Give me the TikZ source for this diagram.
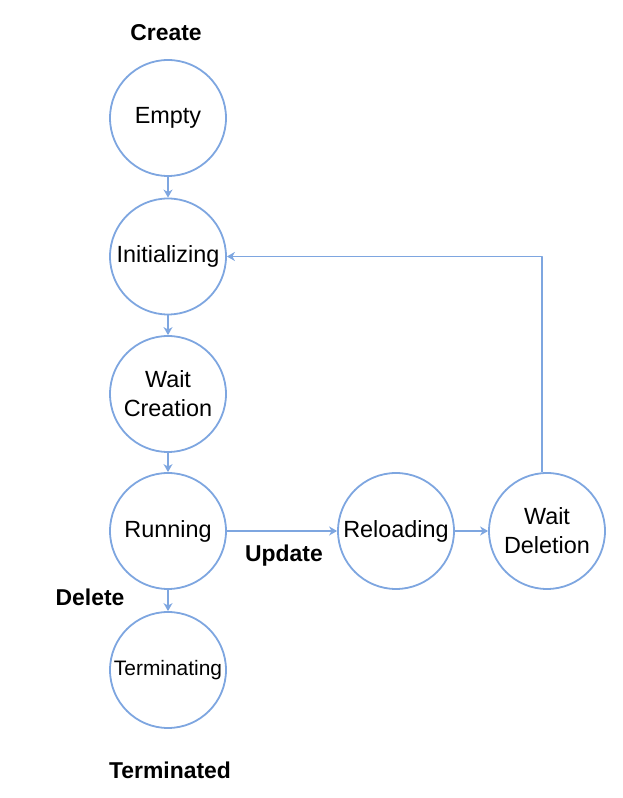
\documentclass[tikz,border=0pt]{standalone}
\usepackage{fontspec}
\setmainfont{Liberation Sans}
\usetikzlibrary{arrows.meta}
\definecolor{stateblue}{HTML}{7EA6E0}
\begin{document}
\begin{tikzpicture}[>={Stealth[length=8bp,width=9bp,inset=2.5bp]},line join=bevel,
  state/.style={draw=stateblue,line width=1.8bp,circle,minimum size=116bp,inner sep=0pt,align=center,font=\fontsize{23.5}{29}\selectfont},
  label/.style={font=\fontsize{23}{27}\selectfont\bfseries},
  flow/.style={stateblue,line width=1.8bp,->}]
\useasboundingbox (0bp,0bp) rectangle (623bp,798bp);
%%
\node (node_0) at (168bp,680bp) [state] {Empty};
  \node (node_1) at (168bp,541.5bp) [state] {Initializing};
  \node (node_2) at (168bp,404bp) [state] {Wait\\Creation};
  \node (node_3) at (168bp,267bp) [state] {Running};
  \node (node_4) at (168bp,128bp) [state,font=\fontsize{21}{25}\selectfont] {Terminating};
  \node (node_5) at (396bp,267bp) [state] {Reloading};
  \node (node_6) at (547bp,267bp) [state] {Wait\\Deletion};
  \node (lbl_create) at (166bp,765bp) [label] {Create};
  \node (lbl_update) at (284bp,242bp) [label] {Update};
  \node (lbl_delete) at (90bp,201bp) [label] {Delete};
  \node (lbl_terminated) at (170bp,28bp) [label] {Terminated};
  \draw [flow] (node_0) -- (node_1);
  \draw [flow] (node_1) -- (node_2);
  \draw [flow] (node_2) -- (node_3);
  \draw [flow] (node_3) -- (node_4);
  \draw [flow] (node_3) -- (node_5);
  \draw [flow] (node_5) -- (node_6);
  \draw [flow] ([xshift=-5bp]node_6.north) |- (node_1);
%
\end{tikzpicture}
\end{document}
